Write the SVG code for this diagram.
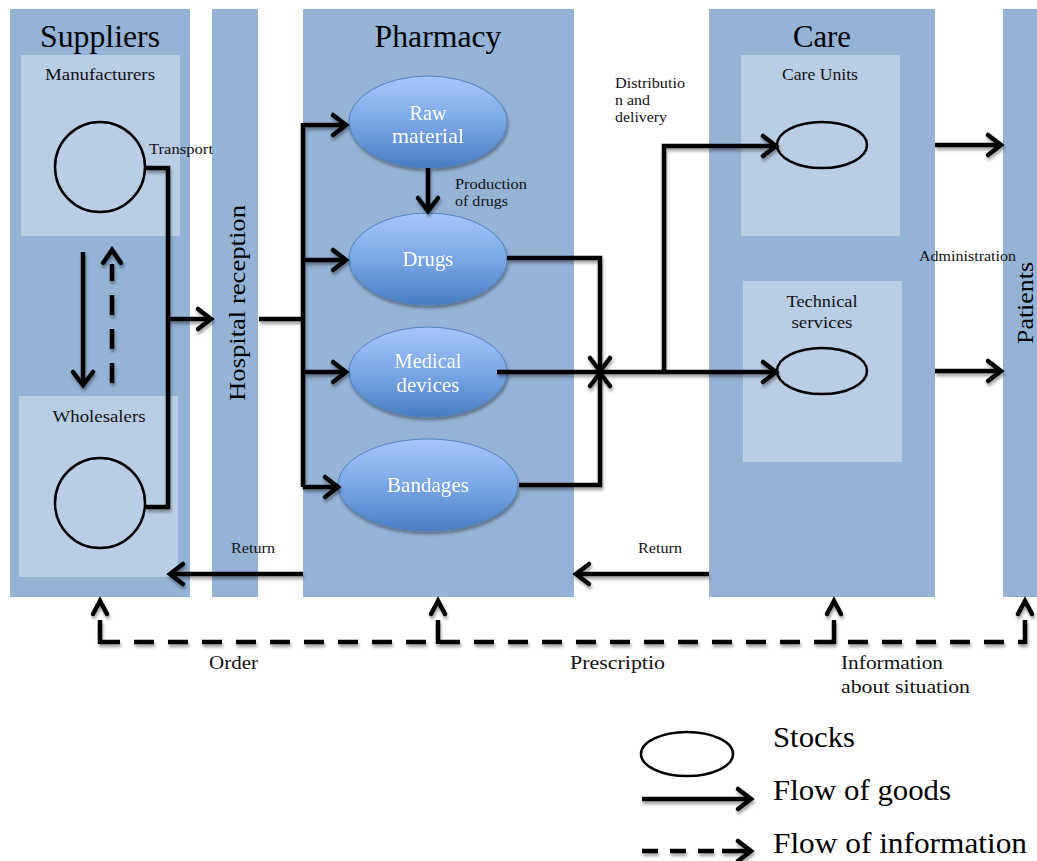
<svg xmlns="http://www.w3.org/2000/svg" width="1037" height="861" viewBox="0 0 1037 861">
  <style>
    .lane { fill: #95b3d7; }
    .sub { fill: #b9cde5; }
    .title { font-family: "Liberation Serif", "DejaVu Serif", serif; font-size: 31px; fill: #000; }
    .vtitle { font-family: "Liberation Serif", "DejaVu Serif", serif; font-size: 24px; fill: #000; }
    .label { font-family: "Liberation Serif", "DejaVu Serif", serif; font-size: 17px; fill: #111; }
    .small { font-family: "Liberation Serif", "DejaVu Serif", serif; font-size: 15.5px; fill: #111; }
    .info { font-family: "Liberation Serif", "DejaVu Serif", serif; font-size: 19px; fill: #111; }
    .legend { font-family: "Liberation Serif", "DejaVu Serif", serif; font-size: 30px; fill: #000; }
    .white { font-family: "Liberation Serif", "DejaVu Serif", serif; font-size: 21px; fill: #fff; text-anchor: middle; }
    .stock { fill: none; stroke: #000; stroke-width: 2.5; }
    .flow { fill: none; stroke: #000; stroke-width: 4.5; stroke-linejoin: miter; }
    .dash { fill: none; stroke: #000; stroke-width: 4.5; stroke-dasharray: 20 14; }
    .chev { fill: none; stroke: #000; stroke-width: 4.5; stroke-linecap: round; }
    .blob { fill: url(#blobFill); stroke: #4f81bd; stroke-width: 1; }
  </style>
  <defs>
    <linearGradient id="blobFill" x1="0" y1="0" x2="0" y2="1">
      <stop offset="0" stop-color="#a5c8fb"/>
      <stop offset="0.5" stop-color="#7aa7e6"/>
      <stop offset="1" stop-color="#4a7dc3"/>
    </linearGradient>
    <filter id="shade" filterUnits="userSpaceOnUse" x="0" y="0" width="1037" height="861">
      <feDropShadow dx="1" dy="3" stdDeviation="1.6" flood-color="#000" flood-opacity="0.35"/>
    </filter>
    <marker id="arrow" markerUnits="userSpaceOnUse" markerWidth="24" markerHeight="28" viewBox="-18 -14 24 28" refX="0" refY="0" orient="auto">
      <path d="M-13,-10 L0,0 L-13,10" fill="none" stroke="#000" stroke-width="4.5" stroke-linecap="round"/>
    </marker>
  </defs>

  <!-- lanes -->
  <g id="suppliers">
    <rect class="lane" x="10" y="9" width="180" height="588"/>
    <text class="title" x="100" y="47" text-anchor="middle" textLength="120" lengthAdjust="spacingAndGlyphs">Suppliers</text>
  </g>
  <g id="manufacturers">
    <rect class="sub" x="21" y="55" width="159" height="181"/>
    <text class="label" x="100" y="80" text-anchor="middle" textLength="110" lengthAdjust="spacingAndGlyphs">Manufacturers</text>
    <circle class="stock" cx="100" cy="167" r="45"/>
  </g>
  <g id="wholesalers">
    <rect class="sub" x="19" y="396" width="159" height="181"/>
    <text class="label" x="99" y="422" text-anchor="middle" textLength="93" lengthAdjust="spacingAndGlyphs">Wholesalers</text>
    <circle class="stock" cx="100" cy="503" r="45"/>
  </g>
  <g id="hospital-reception">
    <rect class="lane" x="212" y="9" width="46" height="588"/>
    <text class="vtitle" transform="translate(245,303) rotate(-90)" text-anchor="middle" textLength="196" lengthAdjust="spacingAndGlyphs">Hospital reception</text>
  </g>
  <g id="pharmacy">
    <rect class="lane" x="303" y="9" width="271" height="588"/>
    <text class="title" x="438" y="47" text-anchor="middle" textLength="127" lengthAdjust="spacingAndGlyphs">Pharmacy</text>
  </g>
  <g id="raw-material" filter="url(#shade)">
    <ellipse class="blob" cx="428" cy="122" rx="79" ry="46"/>
    <text class="white" x="428" y="120" textLength="37" lengthAdjust="spacingAndGlyphs">Raw</text>
    <text class="white" x="428" y="143" textLength="72" lengthAdjust="spacingAndGlyphs">material</text>
  </g>
  <g id="drugs" filter="url(#shade)">
    <ellipse class="blob" cx="428" cy="259" rx="79" ry="46"/>
    <text class="white" x="428" y="266" textLength="51" lengthAdjust="spacingAndGlyphs">Drugs</text>
  </g>
  <g id="medical-devices" filter="url(#shade)">
    <ellipse class="blob" cx="428" cy="372" rx="79" ry="45"/>
    <text class="white" x="428" y="368" textLength="67" lengthAdjust="spacingAndGlyphs">Medical</text>
    <text class="white" x="428" y="392" textLength="63" lengthAdjust="spacingAndGlyphs">devices</text>
  </g>
  <g id="bandages" filter="url(#shade)">
    <ellipse class="blob" cx="428" cy="485" rx="90" ry="46"/>
    <text class="white" x="428" y="492" textLength="82" lengthAdjust="spacingAndGlyphs">Bandages</text>
  </g>
  <g id="care">
    <rect class="lane" x="709" y="9" width="226" height="588"/>
    <text class="title" x="822" y="47" text-anchor="middle" textLength="58" lengthAdjust="spacingAndGlyphs">Care</text>
  </g>
  <g id="care-units">
    <rect class="sub" x="741" y="55" width="159" height="181"/>
    <text class="label" x="820" y="80" text-anchor="middle" textLength="76" lengthAdjust="spacingAndGlyphs">Care Units</text>
    <ellipse class="stock" cx="822" cy="145" rx="45" ry="23"/>
  </g>
  <g id="technical-services">
    <rect class="sub" x="743" y="281" width="159" height="181"/>
    <text class="label" x="822" y="307" text-anchor="middle" textLength="71" lengthAdjust="spacingAndGlyphs">Technical</text>
    <text class="label" x="822" y="328" text-anchor="middle" textLength="61" lengthAdjust="spacingAndGlyphs">services</text>
    <ellipse class="stock" cx="822" cy="371" rx="45" ry="23"/>
  </g>
  <g id="patients">
    <rect class="lane" x="1003" y="9" width="34" height="588"/>
    <text class="vtitle" transform="translate(1033,303) rotate(-90)" text-anchor="middle" textLength="82" lengthAdjust="spacingAndGlyphs">Patients</text>
  </g>

  <!-- connectors -->
  <g id="connectors" filter="url(#shade)">
    <!-- supplier side -->
    <path class="flow" d="M146,168 H168 V507 H146"/>
    <path class="flow" d="M168,319 H211" marker-end="url(#arrow)"/>
    <path class="flow" d="M83,252 V385" marker-end="url(#arrow)"/>
    <path class="dash" d="M112,383 V264"/>
    <path class="chev" d="M103,263 L112,250 L121,263"/>
    <!-- reception to pharmacy -->
    <path class="flow" d="M259,319 H303"/>
    <path class="flow" d="M303,123 V487"/>
    <path class="flow" d="M303,125 H346" marker-end="url(#arrow)"/>
    <path class="flow" d="M303,260 H346" marker-end="url(#arrow)"/>
    <path class="flow" d="M303,372 H346" marker-end="url(#arrow)"/>
    <path class="flow" d="M303,487 H338" marker-end="url(#arrow)"/>
    <path class="flow" d="M428,168 V211" marker-end="url(#arrow)"/>
    <!-- pharmacy to care -->
    <path class="flow" d="M507,258 H600 V371" marker-end="url(#arrow)"/>
    <path class="flow" d="M519,485 H600 V373" marker-end="url(#arrow)"/>
    <path class="flow" d="M497,372 H776" marker-end="url(#arrow)"/>
    <path class="flow" d="M664,372 V146 H776" marker-end="url(#arrow)"/>
    <!-- care to patients -->
    <path class="flow" d="M935,145 H1001" marker-end="url(#arrow)"/>
    <path class="flow" d="M935,371 H1001" marker-end="url(#arrow)"/>
    <!-- returns -->
    <path class="flow" d="M303,574 H170" marker-end="url(#arrow)"/>
    <path class="flow" d="M709,574 H576" marker-end="url(#arrow)"/>
    <!-- information loop -->
    <path class="dash" d="M100,642 H1025"/>
    <path class="flow" d="M100,644 V620"/>
    <path class="flow" d="M438,644 V620"/>
    <path class="flow" d="M834,644 V620"/>
    <path class="flow" d="M1025,644 V620"/>
    <path class="chev" d="M93,614 L100,601 L107,614"/>
    <path class="chev" d="M431,614 L438,601 L445,614"/>
    <path class="chev" d="M827,614 L834,601 L841,614"/>
    <path class="chev" d="M1018,614 L1025,601 L1032,614"/>
  </g>

  <!-- connector labels -->
  <g id="connector-labels">
    <text class="small" x="149" y="154" textLength="64" lengthAdjust="spacingAndGlyphs">Transport</text>
    <text class="small" x="455" y="189" textLength="72" lengthAdjust="spacingAndGlyphs">Production</text>
    <text class="small" x="455" y="206" textLength="53" lengthAdjust="spacingAndGlyphs">of drugs</text>
    <text class="small" x="615" y="88" textLength="70" lengthAdjust="spacingAndGlyphs">Distributio</text>
    <text class="small" x="615" y="105" textLength="35" lengthAdjust="spacingAndGlyphs">n and</text>
    <text class="small" x="615" y="122" textLength="52" lengthAdjust="spacingAndGlyphs">delivery</text>
    <text class="small" x="919" y="261" textLength="97" lengthAdjust="spacingAndGlyphs">Administration</text>
    <text class="small" x="231" y="553" textLength="44" lengthAdjust="spacingAndGlyphs">Return</text>
    <text class="small" x="638" y="553" textLength="44" lengthAdjust="spacingAndGlyphs">Return</text>
    <text class="info" x="209" y="669" textLength="49" lengthAdjust="spacingAndGlyphs">Order</text>
    <text class="info" x="570" y="669" textLength="95" lengthAdjust="spacingAndGlyphs">Prescriptio</text>
    <text class="info" x="841" y="669" textLength="102" lengthAdjust="spacingAndGlyphs">Information</text>
    <text class="info" x="841" y="693" textLength="129" lengthAdjust="spacingAndGlyphs">about situation</text>
  </g>

  <!-- legend -->
  <g id="legend">
    <ellipse class="stock" cx="687" cy="754" rx="46" ry="22"/>
    <text class="legend" x="773" y="747" textLength="82" lengthAdjust="spacingAndGlyphs">Stocks</text>
    <g filter="url(#shade)">
      <path class="flow" d="M642,799 H751" marker-end="url(#arrow)"/>
      <path class="flow" d="M642,851 H658 M670,851 H686 M698,851 H714 M722,851 H751" marker-end="url(#arrow)"/>
    </g>
    <text class="legend" x="773" y="800" textLength="178" lengthAdjust="spacingAndGlyphs">Flow of goods</text>
    <text class="legend" x="773" y="853" textLength="254" lengthAdjust="spacingAndGlyphs">Flow of information</text>
  </g>
</svg>
